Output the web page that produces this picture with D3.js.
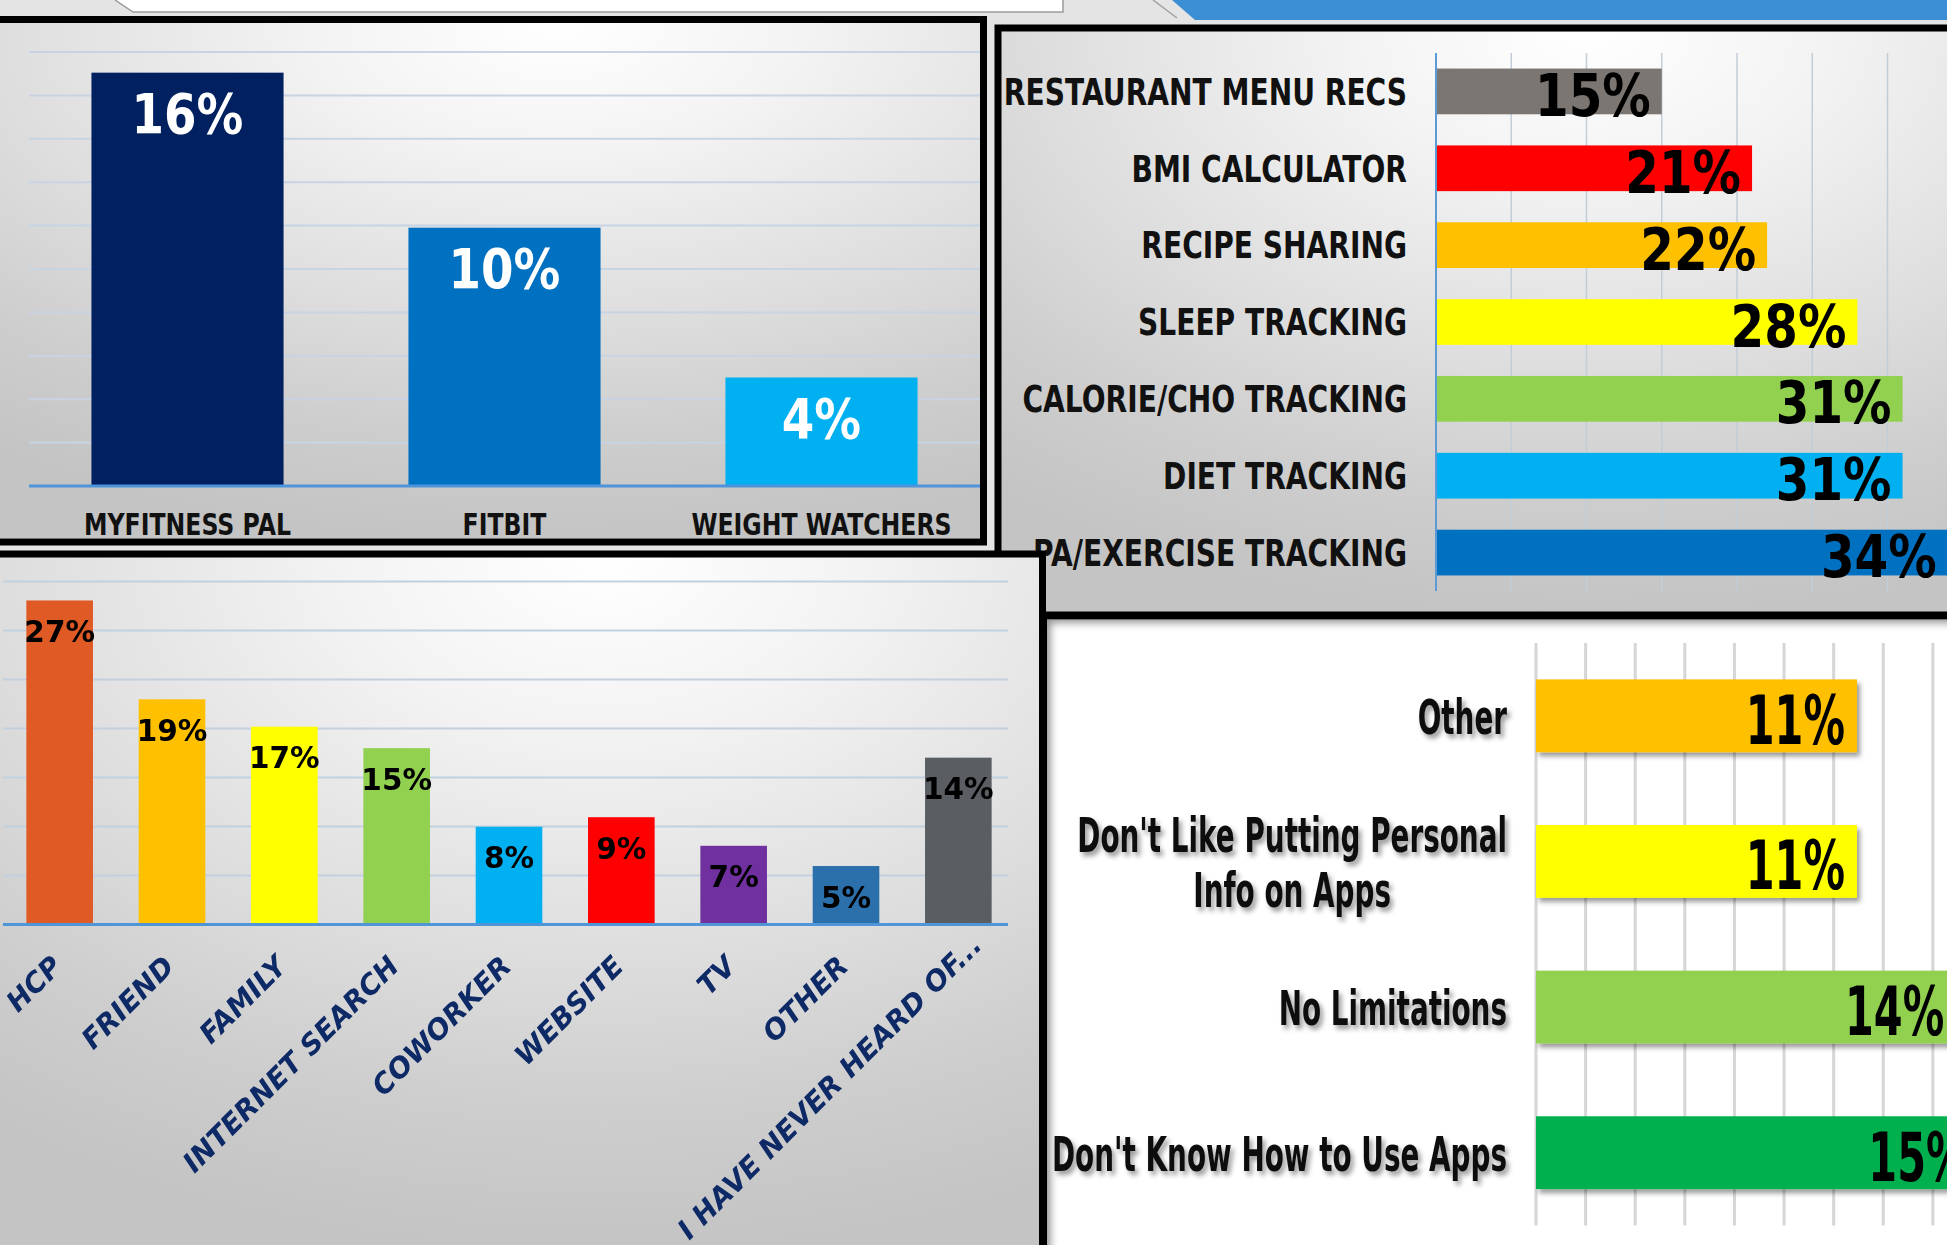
<!DOCTYPE html>
<html>
<head>
<meta charset="utf-8">
<script src="https://cdn.jsdelivr.net/npm/d3@7"></script>
<style>
  html, body { margin:0; padding:0; background:#e4e4e4; }
  svg { display:block; }
  text { font-family: "DejaVu Sans", Verdana, sans-serif; font-weight: bold; }
</style>
</head>
<body>
<div id="canvas"></div>
<script>
var w = 1947;
var h = 1245;

// top-left: apps used
var appNames = ["MYFITNESS PAL", "FITBIT", "WEIGHT WATCHERS"];
var appValues = [0.16, 0.10, 0.042];
var appColors = ["#002060", "#0070c0", "#00b0f0"];

// top-right: app features used
var featureNames = ["RESTAURANT MENU RECS", "BMI CALCULATOR", "RECIPE SHARING", "SLEEP TRACKING",
                    "CALORIE/CHO TRACKING", "DIET TRACKING", "PA/EXERCISE TRACKING"];
var featureValues = [0.15, 0.21, 0.22, 0.28, 0.31, 0.31, 0.34];
var featureColors = ["#7b7672", "#ff0000", "#ffc000", "#ffff00", "#92d050", "#00b0f0", "#0070c0"];
var featureTicks = [0.05, 0.10, 0.15, 0.20, 0.25, 0.30];

// bottom-left: where they heard of apps
var sourceNames = ["HCP", "FRIEND", "FAMILY", "INTERNET SEARCH", "COWORKER", "WEBSITE", "TV", "OTHER",
                   "I HAVE NEVER HEARD OF..."];
var sourceValues = [0.272, 0.189, 0.166, 0.148, 0.082, 0.09, 0.066, 0.049, 0.14];
var sourceColors = ["#e05a26", "#ffc000", "#ffff00", "#92d050", "#00b0f0", "#ff0000", "#7030a0", "#2b6fab", "#5a5e62"];

// bottom-right: limitations
var barrierNames = [["Other"], ["Don't Like Putting Personal", "Info on Apps"], ["No Limitations"],
                    ["Don't Know How to Use Apps"]];
var barrierValues = [0.11, 0.11, 0.144, 0.152];
var barrierColors = ["#ffc000", "#ffff00", "#92d050", "#00b050"];

var pct = d3.format(".0%");

var svg = d3.select("#canvas").append("svg")
        .attr("width", w)
        .attr("height", h)
        .style("background-color", "#e4e4e4");
var defs = svg.append("defs");

function radial(id, cx){
    var g = defs.append("radialGradient").attr("id", id)
            .attr("cx", cx).attr("cy", 0).attr("r", 1).attr("fx", cx).attr("fy", 0);
    [[0, "#ffffff"], [0.25, "#f3f3f3"], [0.6, "#dcdcdc"], [0.8, "#cecece"], [1, "#c4c4c4"]].forEach(function(s){
        g.append("stop").attr("offset", s[0]).attr("stop-color", s[1]);
    });
}
radial("bg1", 0.57);
radial("bg2", 0.62);
radial("bg3", 0.58);

var sh = defs.append("filter").attr("id", "shadow")
        .attr("x", "-10%").attr("y", "-30%").attr("width", "130%").attr("height", "180%");
sh.append("feDropShadow").attr("dx", 3).attr("dy", 4).attr("stdDeviation", 2.5)
        .attr("flood-color", "#000").attr("flood-opacity", 0.4);
var blur = defs.append("filter").attr("id", "blur");
blur.append("feGaussianBlur").attr("stdDeviation", 4);

// squeezed text helper
function label(g, txt, x, y, size, sx, anchor, fill){
    return g.append("text")
        .attr("transform", "translate(" + x + "," + y + ") scale(" + sx + ",1)")
        .attr("text-anchor", anchor)
        .attr("font-size", size)
        .attr("fill", fill)
        .text(txt);
}

// ---------- slide bits behind the charts ----------
svg.append("path").attr("d", "M115,0 L133,12 L1063,12 L1063,0 Z").attr("fill", "#ffffff");
svg.append("path").attr("d", "M115,0 L133,12 L1063,12 L1063,0").attr("fill", "none")
        .attr("stroke", "#9a9a9a").attr("stroke-width", 1.5);
svg.append("line").attr("x1", 1153).attr("y1", 0).attr("x2", 1177).attr("y2", 18)
        .attr("stroke", "#a0a0a0").attr("stroke-width", 1.5);
svg.append("path").attr("d", "M1172,0 L1195,20 L1947,20 L1947,0 Z").attr("fill", "#3b8ed3");

// ---------- panel 1: apps ----------
var p1 = svg.append("g");
p1.append("rect").attr("x", 0).attr("y", 23).attr("width", 980).attr("height", 515).attr("fill", "url(#bg1)");

var x1 = d3.scaleBand().domain(appNames).range([29, 980]).paddingInner(0.394).paddingOuter(0.197);
var y1 = d3.scaleLinear().domain([0, 0.168]).range([486, 52]);
var appGrid = d3.range(1, 11).map(function(i){ return 0.0168 * i; });

p1.selectAll(".grid1").data(appGrid).join("line")
    .attr("x1", 29).attr("x2", 980)
    .attr("y1", function(d){ return y1(d); })
    .attr("y2", function(d){ return y1(d); })
    .attr("stroke", "#c8d4e1").attr("stroke-width", 2);

p1.selectAll(".bar1").data(appNames).join("rect")
    .attr("x", function(d){ return x1(d); })
    .attr("y", function(d, i){ return y1(appValues[i]); })
    .attr("width", x1.bandwidth())
    .attr("height", function(d, i){ return y1(0) - y1(appValues[i]); })
    .attr("fill", function(d, i){ return appColors[i]; });

p1.append("line").attr("x1", 29).attr("x2", 980).attr("y1", y1(0)).attr("y2", y1(0))
    .attr("stroke", "#4d94db").attr("stroke-width", 3);

appNames.forEach(function(d, i){
    var cx = x1(d) + x1.bandwidth() / 2;
    label(p1, pct(appValues[i]), cx, y1(appValues[i]) + 60, 55, 0.85, "middle", "#ffffff");
    label(p1, d, cx, 535, 29.5, 0.8, "middle", "#111111");
});
p1.append("rect").attr("x", -20).attr("y", 19.5).attr("width", 1003.5).attr("height", 522.5)
    .attr("fill", "none").attr("stroke", "#000").attr("stroke-width", 7);

// ---------- panel 2: features ----------
var p2 = svg.append("g");
p2.append("rect").attr("x", 1001).attr("y", 32).attr("width", 946).attr("height", 580).attr("fill", "url(#bg2)");

var x2 = d3.scaleLinear().domain([0, 0.30]).range([1436, 1887.5]);
var y2 = d3.scaleBand().domain(featureNames).range([53, 591]).paddingInner(0.405).paddingOuter(0.2025);

p2.selectAll(".grid2").data(featureTicks).join("line")
    .attr("x1", function(d){ return x2(d); })
    .attr("x2", function(d){ return x2(d); })
    .attr("y1", 53).attr("y2", 591)
    .attr("stroke", "#c3cdd9").attr("stroke-width", 1.5);

p2.selectAll(".bar2").data(featureNames).join("rect")
    .attr("x", x2(0))
    .attr("y", function(d){ return y2(d); })
    .attr("width", function(d, i){ return x2(featureValues[i]) - x2(0); })
    .attr("height", y2.bandwidth())
    .attr("fill", function(d, i){ return featureColors[i]; });

p2.append("line").attr("x1", x2(0)).attr("x2", x2(0)).attr("y1", 53).attr("y2", 591)
    .attr("stroke", "#5b9bd5").attr("stroke-width", 2);

featureNames.forEach(function(d, i){
    var cy = y2(d) + y2.bandwidth() / 2;
    label(p2, pct(featureValues[i]), x2(featureValues[i]) - 11, cy + 24.5, 59, 0.82, "end", "#000000");
    label(p2, d, 1407, cy + 13.3, 38, 0.74, "end", "#111111");
});
p2.append("rect").attr("x", 998).attr("y", 28).attr("width", 1000).attr("height", 587.5)
    .attr("fill", "none").attr("stroke", "#000").attr("stroke-width", 7);

// ---------- panel 4: limitations ----------
var p4 = svg.append("g");
p4.append("rect").attr("x", 1046).attr("y", 620).attr("width", 901).attr("height", 625).attr("fill", "#ffffff");
defs.append("clipPath").attr("id", "clip4").append("rect")
    .attr("x", 1046).attr("y", 620).attr("width", 901).attr("height", 625);
p4.append("g").attr("clip-path", "url(#clip4)").append("rect")
    .attr("x", 1043).attr("y", 615.5).attr("width", 1000).attr("height", 700)
    .attr("fill", "none").attr("stroke", "#000").attr("stroke-width", 14)
    .attr("opacity", 0.45).attr("filter", "url(#blur)");

var x4 = d3.scaleLinear().domain([0, 0.11]).range([1536, 1857]);
var y4 = d3.scaleBand().domain(d3.range(barrierNames.length)).range([643, 1225.5]).paddingInner(0.5).paddingOuter(0.25);
var barrierGrid = d3.range(0, 9).map(function(i){ return 0.017 * i; });

p4.selectAll(".grid4").data(barrierGrid).join("line")
    .attr("x1", function(d){ return x4(d); })
    .attr("x2", function(d){ return x4(d); })
    .attr("y1", 643).attr("y2", 1225.5)
    .attr("stroke", "#d6d6d6").attr("stroke-width", 3);

p4.selectAll(".bar4").data(barrierValues).join("rect")
    .attr("x", x4(0))
    .attr("y", function(d, i){ return y4(i); })
    .attr("width", function(d){ return x4(d) - x4(0); })
    .attr("height", y4.bandwidth())
    .attr("fill", function(d, i){ return barrierColors[i]; })
    .attr("filter", "url(#shadow)");

barrierNames.forEach(function(lines, i){
    var cy = y4(i) + y4.bandwidth() / 2;
    label(p4, pct(barrierValues[i]), x4(barrierValues[i]) - 12, cy + 28, 68, 0.61, "end", "#000000");
    var g = p4.append("g").attr("filter", "url(#shadow)");
    var texts = lines.map(function(t, j){
        var y = cy + 18 + (j - (lines.length - 1) / 2) * 55.5;
        return label(g, t, 0, y, 48, 0.58, "middle", "#111111");
    });
    var maxW = d3.max(texts, function(t){ return t.node().getComputedTextLength() * 0.58; });
    texts.forEach(function(t, j){
        var y = cy + 18 + (j - (lines.length - 1) / 2) * 55.5;
        t.attr("transform", "translate(" + (1507 - maxW / 2) + "," + y + ") scale(0.58,1)");
    });
});
p4.append("rect").attr("x", 1043).attr("y", 615.5).attr("width", 950).attr("height", 700)
    .attr("fill", "none").attr("stroke", "#000").attr("stroke-width", 8);

// ---------- panel 3: sources ----------
var p3 = svg.append("g");
p3.append("rect").attr("x", 0).attr("y", 557).attr("width", 1039).attr("height", 688).attr("fill", "url(#bg3)");

var x3 = d3.scaleBand().domain(sourceNames).range([3.5, 1014.5]).paddingInner(0.407).paddingOuter(0.2035);
var y3 = d3.scaleLinear().domain([0, 0.288]).range([924.4, 581.4]);
var sourceGrid = d3.range(1, 8).map(function(i){ return 0.288 / 7 * i; });

p3.selectAll(".grid3").data(sourceGrid).join("line")
    .attr("x1", 3).attr("x2", 1008)
    .attr("y1", function(d){ return y3(d); })
    .attr("y2", function(d){ return y3(d); })
    .attr("stroke", "#c3d0de").attr("stroke-width", 2);

p3.selectAll(".bar3").data(sourceNames).join("rect")
    .attr("x", function(d){ return x3(d); })
    .attr("y", function(d, i){ return y3(sourceValues[i]); })
    .attr("width", x3.bandwidth())
    .attr("height", function(d, i){ return y3(0) - y3(sourceValues[i]); })
    .attr("fill", function(d, i){ return sourceColors[i]; });

p3.append("line").attr("x1", 3).attr("x2", 1008).attr("y1", y3(0)).attr("y2", y3(0))
    .attr("stroke", "#4f95d8").attr("stroke-width", 3);

sourceNames.forEach(function(d, i){
    var cx = x3(d) + x3.bandwidth() / 2;
    label(p3, pct(sourceValues[i]), cx, y3(sourceValues[i]) + 41.5, 29.5, 1, "middle", "#000000");
    var t = p3.append("text")
        .attr("text-anchor", "end")
        .attr("font-size", 28)
        .attr("font-style", "italic")
        .attr("fill", "#0e2a66")
        .text(d);
    // long labels get pushed up along their own line so they stay inside the panel
    var len = t.node().getComputedTextLength();
    var over = Math.max(0, 968 + len * Math.SQRT1_2 - 1241);
    t.attr("transform", "translate(" + (cx + 4 + over) + "," + (968 - over) + ") rotate(-45)");
});
p3.append("rect").attr("x", -20).attr("y", 554).attr("width", 1062.5).attr("height", 750)
    .attr("fill", "none").attr("stroke", "#000").attr("stroke-width", 7);
</script>
</body>
</html>
